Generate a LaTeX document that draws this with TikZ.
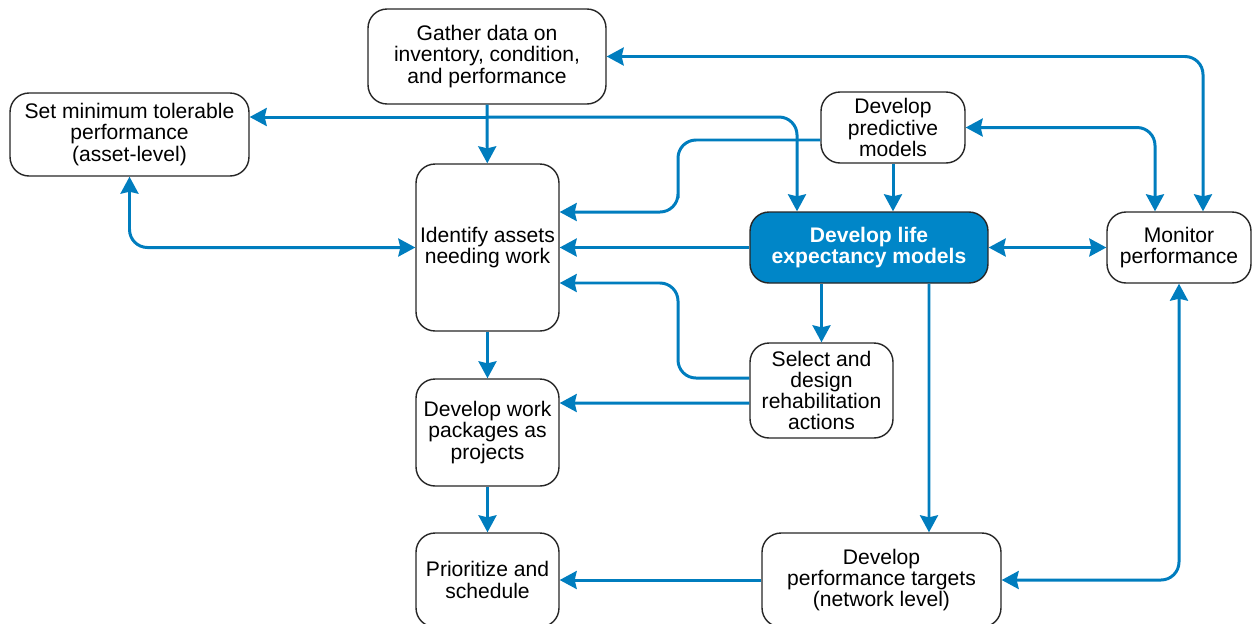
\documentclass[tikz,border=0pt]{standalone}
\usepackage{fontspec}
\setmainfont{Liberation Sans}
\usetikzlibrary{arrows.meta}

\definecolor{lineblue}{RGB}{0,125,190}
\definecolor{boxblue}{RGB}{0,134,200}

\tikzstyle{box}=[rectangle, rounded corners=0.38cm, draw=black!85, line width=0.8pt, fill=white, align=center, font=\fontsize{12}{12.1}\selectfont, inner sep=2pt]
\tikzstyle{keybox}=[box, fill=boxblue, text=white, font=\fontsize{12}{12.1}\selectfont\bfseries]
\tikzstyle{arrow}=[draw=lineblue, line width=1.7pt, rounded corners=0.36cm, -{Stealth[length=0.34cm, width=0.36cm, inset=0.04cm]}]
\tikzstyle{arrow2}=[arrow, {Stealth[length=0.34cm, width=0.36cm, inset=0.04cm]}-{Stealth[length=0.34cm, width=0.36cm, inset=0.04cm]}]

\begin{document}
\begin{tikzpicture}[x=0.02cm, y=-0.02cm]

\useasboundingbox (0,0) rectangle (1254,623);

\node(gather)[box, minimum width=4.76cm, minimum height=1.9cm] at (487,56.5) {Gather data on\\inventory, condition,\\and performance};
\node(setmin)[box, minimum width=4.78cm, minimum height=1.66cm] at (129.5,134.5) {Set minimum tolerable\\performance\\(asset-level)};
\node(identify)[box, minimum width=2.86cm, minimum height=3.34cm] at (487.5,247.5) {Identify assets\\needing work};
\node(predictive)[box, minimum width=2.88cm, minimum height=1.42cm] at (893,127.5) {Develop\\predictive\\models};
\node(life)[keybox, minimum width=4.76cm, minimum height=1.42cm] at (869,247.5) {Develop life\\expectancy models};
\node(monitor)[box, minimum width=2.88cm, minimum height=1.42cm] at (1179,247.5) {Monitor\\performance};
\node(select)[box, minimum width=2.86cm, minimum height=1.9cm] at (821.5,390.5) {Select and\\design\\rehabilitation\\actions};
\node(workpkg)[box, minimum width=2.86cm, minimum height=2.14cm] at (487.5,432.5) {Develop work\\packages as\\projects};
\node(prioritize)[box, minimum width=2.86cm, minimum height=1.88cm] at (487.5,580) {Prioritize and\\schedule};
\node(perftargets)[box, minimum width=4.78cm, minimum height=1.88cm] at (881.5,580) {Develop\\performance targets\\(network level)};

% from gather
\coordinate(split) at (487,117);
\draw[arrow](gather)--(identify);
\draw[arrow](split)--(setmin.east |- split);
\draw[arrow](split)-|([xshift=-1.44cm]life.north);
\draw[arrow2](gather.east)-|([xshift=0.48cm]monitor.north);

% around identify
\draw[arrow2](setmin.south)|-(identify.west);
\draw[arrow]([yshift=-0.25cm]predictive.west)-|(678,180)|-([yshift=0.71cm]identify.east);
\draw[arrow](life)--(identify);
\draw[arrow]([yshift=0.25cm]select.west)-|(678,330)|-([yshift=-0.71cm]identify.east);

% models and monitoring
\draw[arrow](predictive.south)--(predictive.south |- life.north);
\draw[arrow2](predictive.east)-|([xshift=-0.48cm]monitor.north);
\draw[arrow2](life)--(monitor);
\draw[arrow2](monitor.south)|-(perftargets.east);
\draw[arrow](life.south -| select.north)--(select.north);
\draw[arrow]([xshift=1.2cm]life.south)--([xshift=0.95cm]perftargets.north);

% down the left column
\draw[arrow](identify)--(workpkg);
\draw[arrow]([yshift=-0.25cm]select.west)--([yshift=0.59cm]workpkg.east);
\draw[arrow](workpkg)--(prioritize);
\draw[arrow](perftargets)--(prioritize);

\end{tikzpicture}
\end{document}
